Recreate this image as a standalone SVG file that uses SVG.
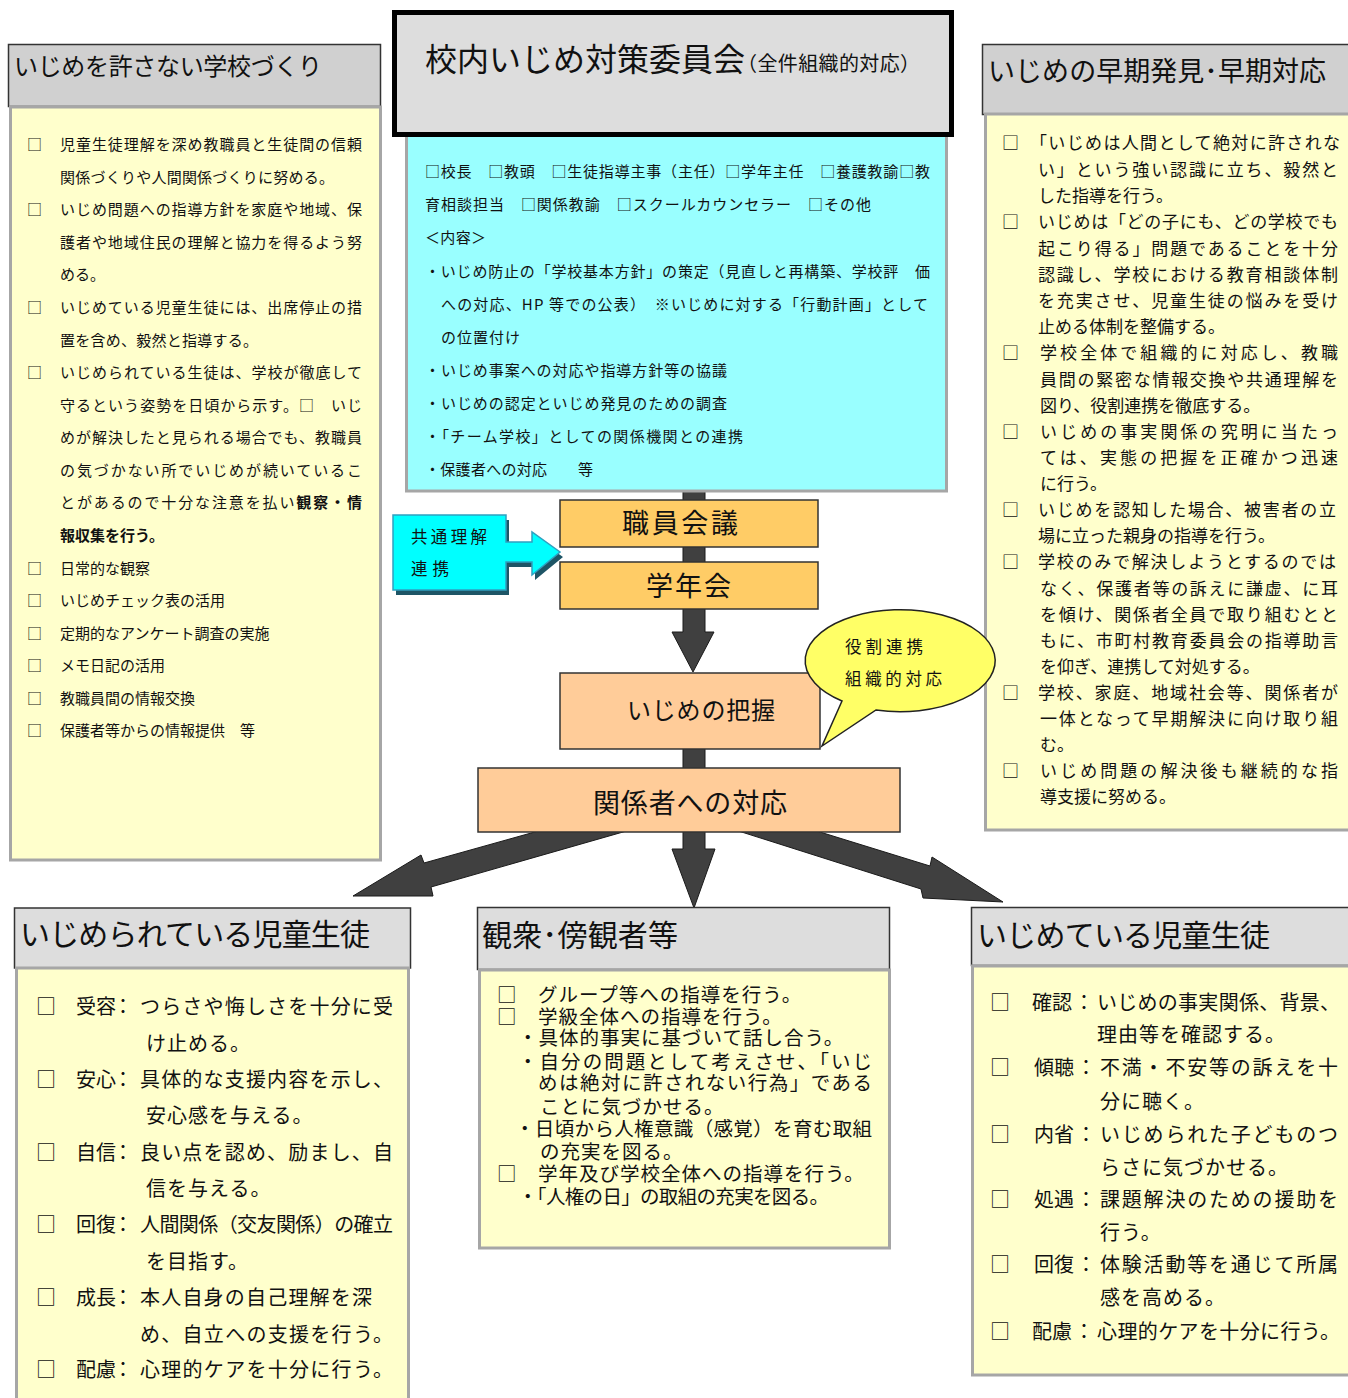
<svg xmlns="http://www.w3.org/2000/svg" width="1348" height="1398" viewBox="0 0 1348 1398">
<defs>
<style>
text{font-family:"Noto Sans CJK JP","Noto Sans CJK SC",sans-serif;fill:#111}
.hdr{stroke:#333;stroke-width:1.5}
.g1{fill:#d0d0d0}
.g2{fill:#dddddd}
.yb{fill:#ffffcc;stroke:#a6a6a6;stroke-width:3}
.dk{fill:#404040;stroke:#1a1a1a;stroke-width:1}
.ob{stroke:#333;stroke-width:1.5}
.s15{font-size:15px}
.s17{font-size:17px}
.s19{font-size:19.5px;letter-spacing:1px}
.s20{font-size:20px}
.ls{letter-spacing:1px}
.b{font-weight:bold}
</style>
</defs>
<rect width="1348" height="1398" fill="#ffffff"/>

<g id="connectors">
<rect class="dk" x="683" y="488" width="22" height="14"/>
<rect class="dk" x="683" y="546" width="22" height="17"/>
<polygon class="dk" points="683,608 705,608 705,632 714,632 693,672 672,632 683,632"/>
<rect class="dk" x="683" y="748" width="22" height="22"/>
<polygon class="dk" points="683,830 705,830 705,849 715,849 694,908 672,849 683,849"/>
<polygon class="dk" points="549,828 637,828 431,887 433,896 353,896 421,855 424,863"/>
<polygon class="dk" points="729,828 807,828 930,866 932,857 1003,902 923,898 921,889"/>
</g>

<g id="school">
<rect class="hdr g1" x="8.5" y="44.5" width="372" height="62"/>
<rect class="yb" x="10.5" y="107" width="370" height="753"/>
<text x="14" y="75" font-size="24" textLength="308">いじめを許さない学校づくり</text>
<g class="s15">
<text x="27" y="149.5">□</text>
<text x="60" y="149.5" textLength="302">児童生徒理解を深め教職員と生徒間の信頼</text>
<text x="60" y="182.5" textLength="274">関係づくりや人間関係づくりに努める。</text>
<text x="27" y="214.5">□</text>
<text x="60" y="214.5" textLength="302">いじめ問題への指導方針を家庭や地域、保</text>
<text x="60" y="247.5" textLength="302">護者や地域住民の理解と協力を得るよう努</text>
<text x="60" y="279.5">める。</text>
<text x="27" y="312.5">□</text>
<text x="60" y="312.5" textLength="302">いじめている児童生徒には、出席停止の措</text>
<text x="60" y="345.5" textLength="198">置を含め、毅然と指導する。</text>
<text x="27" y="377.5">□</text>
<text x="60" y="377.5" textLength="302">いじめられている生徒は、学校が徹底して</text>
<text x="60" y="410.5" textLength="302">守るという姿勢を日頃から示す。□　いじ</text>
<text x="60" y="442.5" textLength="302">めが解決したと見られる場合でも、教職員</text>
<text x="60" y="475.5" textLength="302">の気づかない所でいじめが続いているこ</text>
<text x="60" y="507.5" textLength="302">とがあるので十分な注意を払い<tspan class="b">観察・情</tspan></text>
<text x="60" y="540.5" class="b">報収集を行う。</text>
<text x="27" y="573.5">□</text><text x="60" y="573.5">日常的な観察</text>
<text x="27" y="605.5">□</text><text x="60" y="605.5">いじめチェック表の活用</text>
<text x="27" y="638.5">□</text><text x="60" y="638.5">定期的なアンケート調査の実施</text>
<text x="27" y="670.5">□</text><text x="60" y="670.5">メモ日記の活用</text>
<text x="27" y="703.5">□</text><text x="60" y="703.5">教職員間の情報交換</text>
<text x="27" y="735.5">□</text><text x="60" y="735.5">保護者等からの情報提供　等</text>
</g>
</g>

<g id="committee">
<rect x="406.5" y="134" width="540" height="357" fill="#99ffff" stroke="#a6a6a6" stroke-width="3"/>
<rect x="394.5" y="12.5" width="557" height="122" fill="#dddddd" stroke="#000" stroke-width="5"/>
<text x="425" y="71" font-size="32" textLength="320">校内いじめ対策委員会</text>
<text x="737" y="71" font-size="20" textLength="183">（全件組織的対応）</text>
<g class="s15">
<text x="425" y="177" textLength="505">□校長　□教頭　□生徒指導主事（主任）□学年主任　□養護教諭□教</text>
<text x="425" y="210" textLength="446">育相談担当　□関係教諭　□スクールカウンセラー　□その他</text>
<text x="425" y="243" textLength="61">＜内容＞</text>
<text x="425" y="277" textLength="505">・いじめ防止の「学校基本方針」の策定（見直しと再構築、学校評　価</text>
<text x="441" y="310" textLength="487">への対応、HP 等での公表）　※いじめに対する「行動計画」として</text>
<text x="441" y="343" textLength="79">の位置付け</text>
<text x="425" y="376" textLength="302">・いじめ事案への対応や指導方針等の協議</text>
<text x="425" y="409" textLength="302">・いじめの認定といじめ発見のための調査</text>
<text x="425" y="442" textLength="318">・「チーム学校」としての関係機関との連携</text>
<text x="425" y="475" textLength="168">・保護者への対応　　等</text>
</g>
</g>

<g id="callout">
<path d="M393,515 H506 V542 H532 V532 L560,552 L532,575 V562 H506 V590 H393 Z" transform="translate(3,5)" fill="#1e5566"/>
<path d="M393,515 H506 V542 H532 V532 L560,552 L532,575 V562 H506 V590 H393 Z" fill="#00ffff" stroke="#2fa0c0" stroke-width="1.5"/>
<text x="411" y="543" font-size="16.5" textLength="76">共通理解</text>
<text x="411" y="575" font-size="16.5" textLength="38">連携</text>
</g>

<g id="staff-meeting">
<rect class="ob" x="560" y="500" width="258" height="47" fill="#ffcc66"/>
<text x="622" y="533" font-size="27" textLength="116">職員会議</text>
</g>

<g id="grade-meeting">
<rect class="ob" x="560" y="562" width="258" height="47" fill="#ffcc66"/>
<text x="646" y="596" font-size="27" textLength="85">学年会</text>
</g>

<g id="grasp">
<rect class="ob" x="560" y="673" width="260" height="76" fill="#ffcc99"/>
<text x="627" y="719" font-size="24" textLength="148">いじめの把握</text>
</g>

<g id="response">
<rect class="ob" x="478" y="768" width="422" height="64" fill="#ffcc99"/>
<text x="593" y="813" font-size="27" textLength="194">関係者への対応</text>
</g>

<g id="early">
<rect class="hdr g1" x="982.5" y="44.5" width="380" height="70"/>
<rect class="yb" x="985.5" y="114" width="380" height="716"/>
<text x="988" y="81" font-size="27" textLength="338">いじめの早期発見･早期対応</text>
<g class="s17">
<text x="1002" y="149">□</text><text x="1030" y="149" textLength="310">「いじめは人間として絶対に許されな</text>
<text x="1038" y="176" textLength="300">い」という強い認識に立ち、毅然と</text>
<text x="1038" y="202">した指導を行う。</text>
<text x="1002" y="228">□</text><text x="1038" y="228" textLength="300">いじめは「どの子にも、どの学校でも</text>
<text x="1038" y="255" textLength="300">起こり得る」問題であることを十分</text>
<text x="1038" y="281" textLength="300">認識し、学校における教育相談体制</text>
<text x="1038" y="307" textLength="300">を充実させ、児童生徒の悩みを受け</text>
<text x="1038" y="333">止める体制を整備する。</text>
<text x="1002" y="359">□</text><text x="1040" y="359" textLength="298">学校全体で組織的に対応し、教職</text>
<text x="1040" y="386" textLength="298">員間の緊密な情報交換や共通理解を</text>
<text x="1040" y="412">図り、役割連携を徹底する。</text>
<text x="1002" y="438">□</text><text x="1040" y="438" textLength="298">いじめの事実関係の究明に当たっ</text>
<text x="1040" y="464" textLength="298">ては、実態の把握を正確かつ迅速</text>
<text x="1040" y="490">に行う。</text>
<text x="1002" y="516">□</text><text x="1038" y="516" textLength="298">いじめを認知した場合、被害者の立</text>
<text x="1038" y="542">場に立った親身の指導を行う。</text>
<text x="1002" y="568">□</text><text x="1038" y="568" textLength="298">学校のみで解決しようとするのでは</text>
<text x="1040" y="595" textLength="298">なく、保護者等の訴えに謙虚、に耳</text>
<text x="1040" y="621" textLength="298">を傾け、関係者全員で取り組むとと</text>
<text x="1040" y="647" textLength="298">もに、市町村教育委員会の指導助言</text>
<text x="1040" y="673">を仰ぎ、連携して対処する。</text>
<text x="1002" y="699">□</text><text x="1038" y="699" textLength="300">学校、家庭、地域社会等、関係者が</text>
<text x="1040" y="725" textLength="298">一体となって早期解決に向け取り組</text>
<text x="1040" y="751">む。</text>
<text x="1002" y="777">□</text><text x="1040" y="777" textLength="298">いじめ問題の解決後も継続的な指</text>
<text x="1040" y="803">導支援に努める。</text>
</g>
</g>

<g id="bubble">
<path d="M842,701 L822,746 L876,710 A95,51 0 1 0 842,701 Z" fill="#ffff66" stroke="#222" stroke-width="1.5"/>
<text x="845" y="653" font-size="16.5" textLength="78">役割連携</text>
<text x="845" y="685" font-size="16.5" textLength="97">組織的対応</text>
</g>

<g id="victim">
<rect class="hdr g2" x="14.5" y="908" width="396" height="60"/>
<rect class="yb" x="16.5" y="968" width="392" height="440"/>
<text x="20" y="945" font-size="30" textLength="350">いじめられている児童生徒</text>
<g class="s20">
<text x="36" y="1014">□</text><text x="76" y="1014">受容</text><text x="113" y="1014">：</text><text x="140" y="1014" textLength="253">つらさや悔しさを十分に受</text>
<text x="146" y="1051" class="ls">け止める。</text>
<text x="36" y="1087">□</text><text x="76" y="1087">安心</text><text x="113" y="1087">：</text><text x="140" y="1087" textLength="253">具体的な支援内容を示し、</text>
<text x="146" y="1123" class="ls">安心感を与える。</text>
<text x="36" y="1160">□</text><text x="76" y="1160">自信</text><text x="113" y="1160">：</text><text x="140" y="1160" textLength="253">良い点を認め、励まし、自</text>
<text x="146" y="1196" class="ls">信を与える。</text>
<text x="36" y="1232">□</text><text x="76" y="1232">回復</text><text x="113" y="1232">：</text><text x="140" y="1232" textLength="253">人間関係（交友関係）の確立</text>
<text x="146" y="1269" class="ls">を目指す。</text>
<text x="36" y="1305">□</text><text x="76" y="1305">成長</text><text x="113" y="1305">：</text><text x="140" y="1305" textLength="232">本人自身の自己理解を深</text>
<text x="140" y="1342" textLength="253">め、自立への支援を行う。</text>
<text x="36" y="1377">□</text><text x="76" y="1377">配慮</text><text x="113" y="1377">：</text><text x="140" y="1377" textLength="253">心理的ケアを十分に行う。</text>
</g>
</g>

<g id="bystander">
<rect class="hdr g2" x="477.5" y="907.5" width="412" height="62"/>
<rect class="yb" x="479.5" y="970" width="410" height="278"/>
<text x="482" y="946" font-size="30" textLength="196">観衆･傍観者等</text>
<g class="s19">
<text x="497" y="1002">□</text><text x="538" y="1002">グループ等への指導を行う。</text>
<text x="497" y="1024">□</text><text x="538" y="1024">学級全体への指導を行う。</text>
<text x="518" y="1045">・具体的事実に基づいて話し合う。</text>
<text x="518" y="1069" textLength="355">・自分の問題として考えさせ、「いじ</text>
<text x="538" y="1090" textLength="335">めは絶対に許されない行為」である</text>
<text x="540" y="1114">ことに気づかせる。</text>
<text x="515" y="1136" textLength="358">・日頃から人権意識（感覚）を育む取組</text>
<text x="540" y="1159">の充実を図る。</text>
<text x="497" y="1181">□</text><text x="538" y="1181">学年及び学校全体への指導を行う。</text>
<text x="518" y="1204" textLength="312">・「人権の日」の取組の充実を図る。</text>
</g>
</g>

<g id="bully">
<rect class="hdr g2" x="971.5" y="907.5" width="390" height="58"/>
<rect class="yb" x="972.5" y="966" width="390" height="409"/>
<text x="977" y="946" font-size="30" textLength="293">いじめている児童生徒</text>
<g class="s20">
<text x="990" y="1010">□</text><text x="1032" y="1010">確認</text><text x="1074" y="1010">：</text><text x="1097" y="1010" textLength="243">いじめの事実関係、背景、</text>
<text x="1097" y="1042" class="ls">理由等を確認する。</text>
<text x="990" y="1075">□</text><text x="1034" y="1075">傾聴</text><text x="1076" y="1075">：</text><text x="1100" y="1075" textLength="238">不満・不安等の訴えを十</text>
<text x="1100" y="1109" class="ls">分に聴く。</text>
<text x="990" y="1142">□</text><text x="1034" y="1142">内省</text><text x="1076" y="1142">：</text><text x="1100" y="1142" textLength="238">いじめられた子どものつ</text>
<text x="1100" y="1175" class="ls">らさに気づかせる。</text>
<text x="990" y="1207">□</text><text x="1034" y="1207">処遇</text><text x="1076" y="1207">：</text><text x="1100" y="1207" textLength="238">課題解決のための援助を</text>
<text x="1100" y="1240" class="ls">行う。</text>
<text x="990" y="1272">□</text><text x="1034" y="1272">回復</text><text x="1076" y="1272">：</text><text x="1100" y="1272" textLength="238">体験活動等を通じて所属</text>
<text x="1100" y="1305" class="ls">感を高める。</text>
<text x="990" y="1339">□</text><text x="1032" y="1339">配慮</text><text x="1074" y="1339">：</text><text x="1097" y="1339" textLength="243">心理的ケアを十分に行う。</text>
</g>
</g>
</svg>
